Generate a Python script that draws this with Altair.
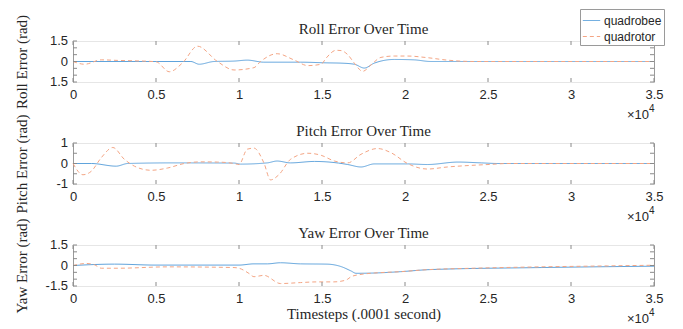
import altair as alt
import pandas as pd

SERIF = "Liberation Serif"
SANS = "Liberation Sans"
TXT = "#262626"

series = ["quadrobee", "quadrotor"]
colors = ["#5fa3dc", "#f4a584"]
dashes = [[1, 0], [4, 3]]

x_ticks = [0, 5000, 10000, 15000, 20000, 25000, 30000, 35000]

# Roll
roll_bee_t = [0, 5000, 7100, 7600, 8500, 9700, 10500, 11500, 13700, 15300, 16150, 16950, 17550, 18150, 19350, 20550, 21550, 22750, 35000]
roll_bee_v = [0, 0, 0, -0.2, 0, 0.03, 0.1, -0.05, -0.05, -0.1, -0.12, -0.2, -0.48, -0.12, 0.15, 0.12, 0, 0, 0]
roll_rot_t = [0, 700, 1700, 2700, 3700, 5000, 5800, 6600, 7500, 8700, 9700, 10900, 11300, 12300, 13300, 14150, 14950, 15250, 15850, 16150, 16550, 16950, 17450, 17950, 18550, 19350, 20150, 21350, 22550, 24150, 35000]
roll_rot_v = [0, -0.2, 0.12, 0.08, 0.05, -0.02, -0.75, -0.1, 1.12, 0, -0.62, -0.45, 0, 0.57, 0.12, -0.3, -0.2, 0.25, 0.82, 0.8, 0.5, -0.12, -0.72, -0.25, 0.3, 0.4, 0.4, 0.28, 0.1, 0, 0]
roll_grid = [-1.5, -1, -0.5, 0, 0.5, 1, 1.5]
roll_lab_v = [-1.5, 0, 1.5]
roll_lab_s = ["1.5", "0", "1.5"]

# Pitch
pitch_bee_t = [0, 1100, 2600, 3300, 6000, 9700, 10100, 11700, 12300, 13100, 14550, 16000, 16550, 17350, 18150, 20150, 21350, 23200, 24600, 25600, 35000]
pitch_bee_v = [0, 0, -0.13, 0, 0.03, 0.02, -0.03, 0.03, 0.12, 0.03, 0.1, 0.02, -0.05, -0.17, -0.02, -0.02, -0.05, 0.07, 0.03, 0, 0]
pitch_rot_t = [0, 600, 1100, 1700, 2400, 3100, 3700, 4700, 5700, 6700, 7700, 8700, 9700, 10000, 10500, 10900, 11500, 11900, 12400, 13100, 14150, 14950, 15750, 16550, 17350, 18350, 19150, 20150, 21350, 22550, 23800, 25000, 26200, 35000]
pitch_rot_v = [0, -0.55, -0.38, 0.28, 0.78, 0.2, -0.13, -0.33, -0.22, 0, 0.08, 0.07, 0, -0.05, 0.7, 0.75, 0.03, -0.8, -0.55, 0.2, 0.5, 0.4, 0.12, 0.03, 0.45, 0.73, 0.53, 0, -0.27, -0.17, -0.1, -0.05, 0, 0]
pitch_grid = [-1, -0.5, 0, 0.5, 1]
pitch_lab_v = [-1, 0, 1]
pitch_lab_s = ["-1", "0", "1"]

# Yaw
yaw_bee_t = [0, 2500, 5000, 10000, 10900, 11700, 12500, 13700, 15300, 16150, 16750, 17050, 18150, 19750, 21500, 28200, 35000]
yaw_bee_v = [0, 0.1, 0.03, 0.03, 0.12, 0.12, 0.2, 0.12, 0.1, -0.08, -0.4, -0.57, -0.55, -0.45, -0.3, -0.15, -0.05]
yaw_rot_t = [0, 800, 1300, 1700, 2700, 5700, 9700, 10000, 10600, 10900, 11500, 12500, 13700, 14700, 15700, 16150, 16550, 16750, 17350, 18150, 19750, 21150, 24150, 28150, 32200, 35000]
yaw_rot_v = [0, 0.15, 0.05, -0.2, -0.2, -0.1, -0.15, -0.2, -0.58, -0.82, -0.72, -1.32, -1.25, -1.2, -1.2, -1.15, -1.0, -0.82, -0.65, -0.55, -0.45, -0.32, -0.2, -0.1, -0.03, 0.02]
yaw_grid = [-1.5, -1, -0.5, 0, 0.5, 1, 1.5]
yaw_lab_v = [-1.5, 0, 1.5]
yaw_lab_s = ["-1.5", "0", "1.5"]

W, H = 581, 41


def frame(bt, bv, rt, rv):
    a = pd.DataFrame({"t": bt, "v": bv, "series": series[0]})
    b = pd.DataFrame({"t": rt, "v": rv, "series": series[1]})
    return pd.concat([a, b], ignore_index=True)


def panel(df, title, ytitle, ydom, yvals, lab_v, lab_s, xtitle=None):
    if xtitle:
        xaxis = alt.Axis(values=x_ticks, labelExpr="'' + datum.value / 10000", grid=False,
                         labelFlush=False, labelPadding=6, titlePadding=1, title=xtitle)
    else:
        xaxis = alt.Axis(values=x_ticks, labelExpr="'' + datum.value / 10000", grid=False,
                         labelFlush=False, labelPadding=6, title=None)
    xs = alt.Scale(domain=[0, 35000], nice=False, zero=False)
    ys = alt.Scale(domain=ydom, nice=False, zero=False)
    leg = alt.Legend(title=None, orient="none", legendX=507, legendY=-32)
    lines = alt.Chart(df).mark_line(strokeWidth=1, interpolate="monotone").encode(
        x=alt.X("t:Q", scale=xs, axis=xaxis),
        y=alt.Y("v:Q", scale=ys, axis=alt.Axis(values=yvals, labels=False, title=ytitle, grid=True,
                                               titleX=-52, titleY=H / 2, titleAngle=270,
                                               titleAlign="center", titleBaseline="middle")),
        color=alt.Color("series:N", scale=alt.Scale(domain=series, range=colors), legend=leg),
        strokeDash=alt.StrokeDash("series:N", scale=alt.Scale(domain=series, range=dashes), legend=leg),
    )
    xt = pd.DataFrame({"t": x_ticks})
    yt = pd.DataFrame({"v": yvals})
    tk = "#8a8a8a"
    top_t = alt.Chart(xt).mark_rule(color=tk, strokeWidth=1).encode(x="t:Q", y=alt.value(0), y2=alt.value(4))
    bot_t = alt.Chart(xt).mark_rule(color=tk, strokeWidth=1).encode(x="t:Q", y=alt.value(H - 4), y2=alt.value(H))
    lef_t = alt.Chart(yt).mark_rule(color=tk, strokeWidth=1).encode(y="v:Q", x=alt.value(0), x2=alt.value(4))
    rig_t = alt.Chart(yt).mark_rule(color=tk, strokeWidth=1).encode(y="v:Q", x=alt.value(W - 4), x2=alt.value(W))
    ylab = alt.Chart(pd.DataFrame({"v": lab_v, "s": lab_s})).mark_text(
        align="right", baseline="middle", font=SANS, fontSize=13, color=TXT, dx=-5
    ).encode(y="v:Q", x=alt.value(0), text="s:N")
    ttl = alt.Chart(pd.DataFrame({"s": [title]})).mark_text(
        align="center", baseline="alphabetic", font=SERIF, fontSize=15, color=TXT
    ).encode(x=alt.value(W / 2), y=alt.value(-7), text="s:N")
    s1 = alt.Chart(pd.DataFrame({"s": ["×10"]})).mark_text(
        align="right", baseline="middle", font=SANS, fontSize=13, color=TXT
    ).encode(x=alt.value(W - 5), y=alt.value(H + 33), text="s:N")
    s2 = alt.Chart(pd.DataFrame({"s": ["4"]})).mark_text(
        align="left", baseline="middle", font=SANS, fontSize=10, color=TXT
    ).encode(x=alt.value(W - 5), y=alt.value(H + 27), text="s:N")
    return alt.layer(lines, top_t, bot_t, lef_t, rig_t, ylab, ttl, s1, s2).properties(width=W, height=H)


p1 = panel(frame(roll_bee_t, roll_bee_v, roll_rot_t, roll_rot_v), "Roll Error Over Time", "Roll Error (rad)",
           [-1.5, 1.5], roll_grid, roll_lab_v, roll_lab_s)
p2 = panel(frame(pitch_bee_t, pitch_bee_v, pitch_rot_t, pitch_rot_v), "Pitch Error Over Time", "Pitch Error (rad)",
           [-1, 1], pitch_grid, pitch_lab_v, pitch_lab_s)
p3 = panel(frame(yaw_bee_t, yaw_bee_v, yaw_rot_t, yaw_rot_v), "Yaw Error Over Time", "Yaw Error (rad)",
           [-1.5, 1.5], yaw_grid, yaw_lab_v, yaw_lab_s, xtitle="Timesteps (.0001 second)")

chart = alt.vconcat(p1, p2, p3, spacing=61, bounds="flush").properties(
    padding={"left": 5, "top": 0, "right": 5, "bottom": 0}
).configure_view(stroke="#9a9a9a", strokeWidth=1).configure_axis(
    domain=False, ticks=False, gridColor="#e6e6e6", gridWidth=1,
    labelFont=SANS, labelFontSize=13, labelColor=TXT,
    titleFont=SERIF, titleFontSize=15, titleFontWeight="normal", titleColor=TXT,
).configure_legend(
    fillColor="white", strokeColor="#9a9a9a", padding=2, rowPadding=0,
    labelFont=SANS, labelFontSize=12, labelColor=TXT, symbolType="stroke",
    symbolSize=300, symbolStrokeWidth=1, labelOffset=3,
)

chart.save("out.html", embed_options={"renderer": "svg", "actions": False})
